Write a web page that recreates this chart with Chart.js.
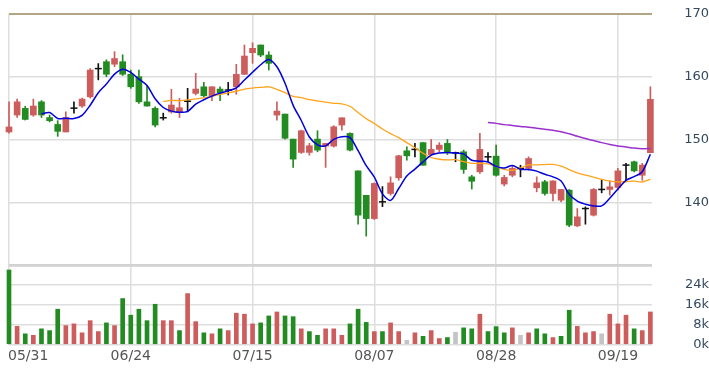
<!DOCTYPE html>
<html><head><meta charset="utf-8">
<script src="https://cdn.jsdelivr.net/npm/chart.js@4.4.1/dist/chart.umd.min.js"></script>
<style>html,body{margin:0;padding:0;background:#fff;overflow:hidden}#wrap{width:709px;height:369px}</style>
</head><body><div id="wrap"><canvas id="c" width="709" height="369"></canvas></div>
<script>
// ---- data ----
const tickIndex  = [0, 15, 30, 45, 60, 75];
const tickLabels = ['05/31', '06/24', '07/15', '08/07', '08/28', '09/19'];
const priceTicks  = [130, 140, 150, 160, 170];
const volumeTicks = [0, 8000, 16000, 24000, 32000];

const openP = [151.2,153.9,154.96,153.9,156.0,153.5,152.4,151.2,155.0,155.33,
156.8,161.3,162.4,162.0,162.4,160.4,160.0,156.0,154.96,153.46,
154.4,154.3,156.1,157.35,158.4,156.97,158.04,157.88,158.4,160.38,
163.83,165.06,163.46,153.89,154.05,150.06,147.94,147.94,150.06,148.95,
148.95,152.3,150.97,145.0,141.1,137.4,140.07,141.4,143.9,148.2,
148.42,149.5,147.6,148.42,149.38,147.88,148.04,144.05,144.85,147.24,
147.35,142.9,144.3,145.4,145.4,142.3,143.26,141.4,140.33,141.93,
136.24,139.0,137.94,142.04,142.04,142.36,145.92,146.45,144.3,147.9];
const highP = [156.0,156.44,155.3,156.44,156.2,153.9,153.0,154.4,156.0,156.6,
161.3,162.1,162.7,164.0,163.5,161.07,161.07,158.5,155.2,154.2,
158.0,156.55,158.15,160.54,159.1,158.4,158.4,159.1,161.98,165.06,
165.42,165.06,163.99,156.0,154.05,150.06,151.5,149.38,151.4,149.38,
152.2,153.46,151.07,145.0,141.1,143.1,142.5,144.05,147.5,148.84,
149.38,149.5,150.0,149.5,150.0,148.0,148.3,144.3,150.97,147.9,
149.1,144.3,145.76,145.9,147.24,144.05,143.5,143.4,142.04,142.04,
139.0,139.26,142.2,143.5,143.4,145.4,146.2,146.55,146.2,158.4];
const lowP = [151.0,153.5,153.1,153.7,153.5,152.8,150.5,151.2,154.2,155.1,
156.6,159.5,160.0,161.6,160.2,158.15,155.76,155.3,152.0,153.1,
154.2,153.5,154.4,157.1,156.8,156.2,156.2,157.1,157.2,160.38,
162.14,163.2,161.07,153.1,150.06,145.55,147.78,147.5,148.04,145.55,
148.8,151.5,148.2,136.5,134.6,137.25,139.3,141.13,143.5,146.7,
147.24,145.9,147.5,148.0,147.6,146.45,144.6,142.1,144.6,146.45,
144.15,142.6,144.05,144.05,145.1,141.66,141.13,140.2,140.07,136.1,
136.1,136.5,137.8,141.5,141.13,141.93,143.5,144.85,143.5,147.9];
const closeP = [152.0,156.0,153.2,155.33,153.9,153.0,151.3,153.5,155.0,156.44,
161.07,161.3,160.4,162.9,160.4,158.4,156.0,155.33,152.3,153.46,
155.49,155.06,156.1,158.04,156.97,158.4,157.45,157.88,160.38,163.3,
164.53,163.46,162.14,154.53,150.2,146.87,151.39,149.0,148.31,149.38,
152.03,153.46,148.31,137.94,137.4,143.0,140.07,143.09,147.4,147.4,
148.42,145.9,148.42,149.1,147.88,147.88,145.23,143.35,148.42,147.24,
144.3,143.95,145.4,145.4,146.97,143.1,141.4,143.4,142.04,136.35,
137.67,139.0,142.04,142.04,142.46,145.0,145.92,145.0,145.92,156.4];

const volume = [30000,7300,4300,3700,6300,5600,14200,7600,8300,4700,
9600,5200,8700,7600,18500,11800,14200,9600,16200,9600,
9600,5600,20500,9200,4700,4300,6300,5600,12600,12200,
8300,8700,11500,13100,11500,11200,6300,5200,3700,6300,
6300,3700,8300,14200,8900,5200,5200,8700,5200,1700,
4700,3300,5600,2400,2800,4900,6700,6300,12200,5200,
7200,4700,6700,3700,4700,6300,4300,2800,3300,13800,
7300,4700,5200,4300,12200,8300,11800,6300,5600,13100];
// change versus previous day: 1 up, -1 down, 0 unchanged
const volumeTrend = [-1,1,-1,1,-1,-1,-1,1,1,1, 1,1,-1,1,-1,-1,-1,-1,-1,1,
1,-1,1,1,-1,1,-1,1,1,1, 1,-1,-1,1,-1,-1,1,-1,-1,1,
1,1,-1,-1,-1,1,-1,1,1,0, 1,-1,1,1,-1,0,-1,-1,1,-1,
-1,-1,1,0,1,-1,-1,1,-1,-1, 1,1,1,0,1,1,1,-1,1,1];

const ma5Start = 4;
const ma5 = [154.09,154.29,153.35,153.40,153.34,153.85,155.46,157.46,158.84,160.42,
161.21,160.68,159.62,158.61,156.49,155.10,154.52,154.33,154.48,155.63,
156.33,156.91,157.39,157.75,158.22,159.48,160.71,161.91,162.76,161.59,
158.97,155.44,153.03,150.40,149.15,148.99,150.02,150.44,150.30,148.22,
145.83,144.02,141.34,140.30,142.19,144.19,145.28,146.44,147.51,147.85,
147.94,147.84,147.70,146.69,146.55,146.42,145.71,145.45,145.86,145.26,
145.20,144.96,144.45,144.05,143.38,141.26,140.17,139.69,139.42,139.42,
140.64,142.11,143.49,144.08,144.86,147.65];
const ma20Start = 19;
const ma20 = [156.06,156.24,156.19,156.33,156.47,156.62,156.89,157.20,157.42,157.69,
158.03,158.20,158.31,158.40,157.98,157.47,156.89,156.66,156.35,156.15,
155.94,155.77,155.69,155.30,154.30,153.32,152.55,151.68,150.94,150.29,
149.50,148.69,147.81,147.13,146.85,146.74,146.79,146.48,146.20,146.20,
146.10,145.71,145.24,145.09,145.46,145.94,145.95,146.01,146.03,145.76,
145.21,144.67,144.33,144.01,143.65,143.38,143.24,143.27,143.36,143.23,143.69];
const ma60Start = 59;
const ma60 = [152.70,152.57,152.37,152.24,152.08,151.96,151.80,151.63,151.46,151.25,
150.91,150.52,150.15,149.84,149.50,149.20,148.97,148.81,148.63,148.53,148.58];

// ---- styles ----
const RED = '#cd5c5c', GREEN = '#228b22', GRAY = '#c4c4c4', DOJI = '#111111';
const idx = closeP.map((_, i) => i);
const isDoji = i => openP[i] === closeP[i];
const candleColor = i => isDoji(i) ? DOJI : (closeP[i] > openP[i] ? RED : GREEN);
const line = (arr, start, color, w) => ({
  type: 'line', yAxisID: 'y', order: 0,
  data: arr.map((v, k) => ({x: k + start, y: v})),
  borderColor: color, borderWidth: w, pointRadius: 0, tension: 0.3, fill: false
});
const noPad = s => { s.paddingTop = 0; s.paddingBottom = 0; s.paddingLeft = 0; s.paddingRight = 0; };

const xLabelPlugin = {
  id: 'xLabels',
  afterDraw(chart) {
    const xs = chart.scales.x, ctx = chart.ctx;
    const y = chart.chartArea.bottom + 12;
    ctx.save();
    ctx.font = '14px "DejaVu Sans"';
    ctx.fillStyle = '#555555';
    ctx.textBaseline = 'middle';
    tickIndex.forEach((v, k) => {
      const px = xs.getPixelForValue(v);
      if (k === 0) { ctx.textAlign = 'left'; ctx.fillText(tickLabels[k], px - 1, y); }
      else { ctx.textAlign = 'center'; ctx.fillText(tickLabels[k], px, y); }
    });
    ctx.restore();
  }
};

const yAxis = (weight, min, max, ticks, fmt, gridColor, gridWidth) => ({
  type: 'linear', position: 'right', stack: 'panels', stackWeight: weight,
  min: min, max: max,
  afterBuildTicks: s => { s.ticks = ticks.map(v => ({value: v})); },
  ticks: {
    callback: fmt, autoSkip: false,
    font: {family: 'DejaVu Sans', size: 13}, color: '#34495e',
    padding: 23, crossAlign: 'far'
  },
  grid: {drawTicks: false, color: gridColor, lineWidth: gridWidth},
  border: {display: false},
  afterFit: s => { s.width = 57; noPad(s); }
});

new Chart(document.getElementById('c'), {
  type: 'bar',
  data: {
    datasets: [
      line(ma5, ma5Start, '#0000dd', 1.5),
      line(ma20, ma20Start, '#ffa41c', 1.3),
      line(ma60, ma60Start, '#9932cc', 1.5),
      {
        type: 'line', yAxisID: 'y', order: 1, showLine: false,
        data: idx.filter(isDoji).map(i => ({x: i, y: openP[i]})),
        pointStyle: 'line', pointRadius: 3.5, pointBorderColor: DOJI, pointBorderWidth: 1.5,
        pointBackgroundColor: DOJI, clip: false
      },
      {
        yAxisID: 'y', order: 2, grouped: false, barThickness: 6, clip: false,
        data: idx.map(i => ({x: i, y: isDoji(i) ? null : [openP[i], closeP[i]]})),
        backgroundColor: c => candleColor(c.dataIndex), borderWidth: 0, borderSkipped: false
      },
      {
        yAxisID: 'y', order: 3, grouped: false, barThickness: 1, clip: false,
        data: idx.map(i => ({x: i, y: [lowP[i], highP[i]]})),
        backgroundColor: c => candleColor(c.dataIndex), borderWidth: 0, borderSkipped: false
      },
      {
        yAxisID: 'yVol', order: 4, grouped: false, barThickness: 4, clip: false,
        data: idx.map(i => ({x: i, y: volume[i]})),
        backgroundColor: c => volumeTrend[c.dataIndex] > 0 ? RED : (volumeTrend[c.dataIndex] < 0 ? GREEN : GRAY),
        borderWidth: 0
      }
    ]
  },
  options: {
    responsive: false, animation: false, devicePixelRatio: 1,
    layout: {padding: {left: 9, top: 14, right: 0, bottom: 0}},
    plugins: {legend: {display: false}, tooltip: {enabled: false}},
    scales: {
      x: {
        type: 'linear', position: 'bottom', min: 0, max: 79.2, offset: false,
        afterBuildTicks: s => { s.ticks = tickIndex.map(v => ({value: v})); },
        ticks: {display: false},
        grid: {color: '#dedede', lineWidth: 1.5, drawTicks: false, offset: false},
        border: {display: false},
        afterFit: s => { s.height = 24.5; noPad(s); }
      },
      y: yAxis(251, 130, 170, priceTicks,
        v => v === 130 ? '' : String(v),
        c => c.tick.value === 170 ? '#b3a684' : (c.tick.value === 130 ? '#d2d2d2' : '#dedede'),
        c => c.tick.value === 170 ? 2 : (c.tick.value === 130 ? 2.5 : 1.5)),
      yVol: yAxis(79.5, 0, 32000, volumeTicks,
        v => v === 32000 ? '' : (v / 1000) + 'k',
        c => c.tick.value === 32000 ? '#d2d2d2' : '#dedede',
        c => c.tick.value === 32000 ? 2.5 : 1.5)
    }
  },
  plugins: [xLabelPlugin]
});
</script>
</body></html>
